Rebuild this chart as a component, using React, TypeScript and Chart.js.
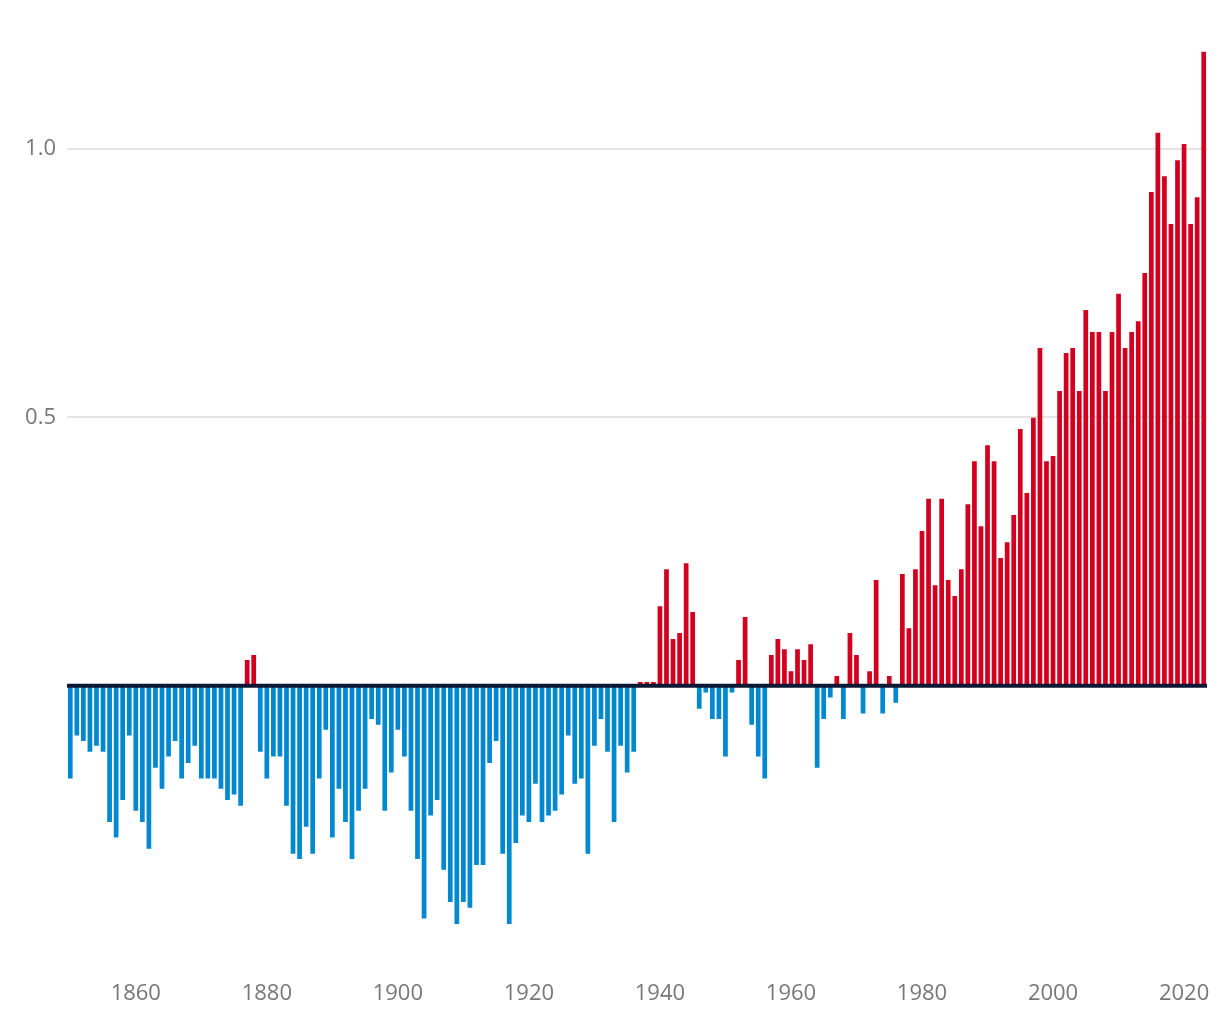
import React, { useEffect, useRef } from "react";
import { Chart, registerables } from "chart.js";

Chart.register(...registerables);

const firstYear = 1850;
const anomalies: number[] = [
  // 1850-1879
  -0.173, -0.093, -0.103, -0.123, -0.112, -0.123, -0.254, -0.283, -0.213, -0.093,
  -0.233, -0.254, -0.304, -0.153, -0.192, -0.132, -0.103, -0.173, -0.144, -0.112,
  -0.173, -0.173, -0.173, -0.192, -0.213, -0.203, -0.224, 0.048, 0.057, -0.123,
  // 1880-1889
  -0.173, -0.132, -0.132, -0.224, -0.313, -0.323, -0.263, -0.313, -0.173, -0.082,
  // 1890-1899
  -0.283, -0.192, -0.254, -0.323, -0.233, -0.192, -0.062, -0.073, -0.233, -0.162,
  // 1900-1909
  -0.082, -0.132, -0.233, -0.323, -0.434, -0.242, -0.213, -0.343, -0.403, -0.444,
  // 1910-1919
  -0.403, -0.414, -0.334, -0.334, -0.144, -0.103, -0.313, -0.444, -0.293, -0.242,
  // 1920-1929
  -0.254, -0.183, -0.254, -0.242, -0.233, -0.203, -0.093, -0.183, -0.173, -0.313,
  // 1930-1939
  -0.112, -0.062, -0.123, -0.254, -0.112, -0.162, -0.123, 0.007, 0.007, 0.007,
  // 1940-1949
  0.148, 0.217, 0.087, 0.098, 0.228, 0.137, -0.043, -0.013, -0.062, -0.062,
  // 1950-1959
  -0.132, -0.013, 0.048, 0.128, -0.073, -0.132, -0.173, 0.057, 0.087, 0.068,
  // 1960-1969
  0.027, 0.068, 0.048, 0.077, -0.153, -0.062, -0.022, 0.018, -0.062, 0.098,
  // 1970-1979
  0.057, -0.052, 0.027, 0.197, -0.052, 0.018, -0.032, 0.208, 0.107, 0.217,
  // 1980-1989
  0.288, 0.348, 0.187, 0.348, 0.197, 0.167, 0.217, 0.338, 0.418, 0.297,
  // 1990-1999
  0.448, 0.418, 0.238, 0.267, 0.318, 0.478, 0.359, 0.499, 0.629, 0.418,
  // 2000-2009
  0.428, 0.549, 0.62, 0.629, 0.549, 0.7, 0.659, 0.659, 0.549, 0.659,
  // 2010-2019
  0.73, 0.629, 0.659, 0.679, 0.769, 0.92, 1.03, 0.949, 0.86, 0.979,
  // 2020-2023
  1.009, 0.86, 0.91, 1.181,
];
const years: string[] = anomalies.map((_, i) => String(firstYear + i));
const xTickYears: number[] = [1860, 1880, 1900, 1920, 1940, 1960, 1980, 2000, 2020];
const yTickValues: number[] = [0, 0.5, 1.0];

const RED = "#d2001e";
const BLUE = "#0088d0";
const ZERO = "#0c1734";
const GRID = "#e4e4e4";
const TEXT = "#777777";
const FONT = "'Open Sans', sans-serif";

export default function App() {
  const ref = useRef<HTMLCanvasElement | null>(null);

  useEffect(() => {
    if (!ref.current) return;
    const zeroLine = {
      id: "zeroLine",
      afterDatasetsDraw(chart: any) {
        const { ctx, chartArea, scales } = chart;
        const y = scales.y.getPixelForValue(0);
        ctx.save();
        ctx.strokeStyle = ZERO;
        ctx.lineWidth = 4;
        ctx.beginPath();
        ctx.moveTo(chartArea.left, y);
        ctx.lineTo(chartArea.right, y);
        ctx.stroke();
        ctx.restore();
      },
    };
    const chart = new Chart(ref.current, {
      type: "bar",
      data: {
        labels: years,
        datasets: [
          {
            data: anomalies,
            backgroundColor: anomalies.map((v) => (v >= 0 ? RED : BLUE)),
            categoryPercentage: 1,
            barPercentage: 0.72,
            borderWidth: 0,
          },
        ],
      },
      options: {
        animation: false,
        responsive: false,
        layout: { padding: { top: 41.6, right: 13, bottom: 0, left: 0 } },
        plugins: { legend: { display: false }, tooltip: { enabled: false } },
        scales: {
          x: {
            grid: { display: false, drawTicks: false },
            border: { display: false },
            afterFit: (s: any) => {
              s.height = 66;
              s.paddingLeft = 0;
              s.paddingRight = 0;
            },
            ticks: {
              autoSkip: false,
              maxRotation: 0,
              padding: 27,
              color: TEXT,
              font: { family: FONT, size: 22 },
              callback: (_v: any, i: number) =>
                xTickYears.includes(firstYear + i) ? String(firstYear + i) : "",
            },
          },
          y: {
            min: -0.5,
            max: 1.2,
            grid: {
              drawTicks: false,
              color: (c: any) => (c.tick && c.tick.value === 0 ? "rgba(0,0,0,0)" : GRID),
              lineWidth: 2,
            },
            border: { display: false },
            afterFit: (s: any) => {
              s.width = 67;
              s.paddingTop = 0;
              s.paddingBottom = 0;
            },
            afterBuildTicks: (s: any) => {
              s.ticks = yTickValues.map((v) => ({ value: v }));
            },
            ticks: {
              padding: 11,
              color: TEXT,
              font: { family: FONT, size: 22 },
              callback: (v: any) => (Number(v) === 0 ? "" : Number(v).toFixed(1)),
            },
          },
        },
      },
      plugins: [zeroLine],
    });
    return () => chart.destroy();
  }, []);

  return (
    <div style={{ position: "fixed", left: 0, top: 0, width: 1220, height: 1020, background: "#fff" }}>
      <canvas ref={ref} width={1220} height={1020} style={{ display: "block" }} />
    </div>
  );
}
